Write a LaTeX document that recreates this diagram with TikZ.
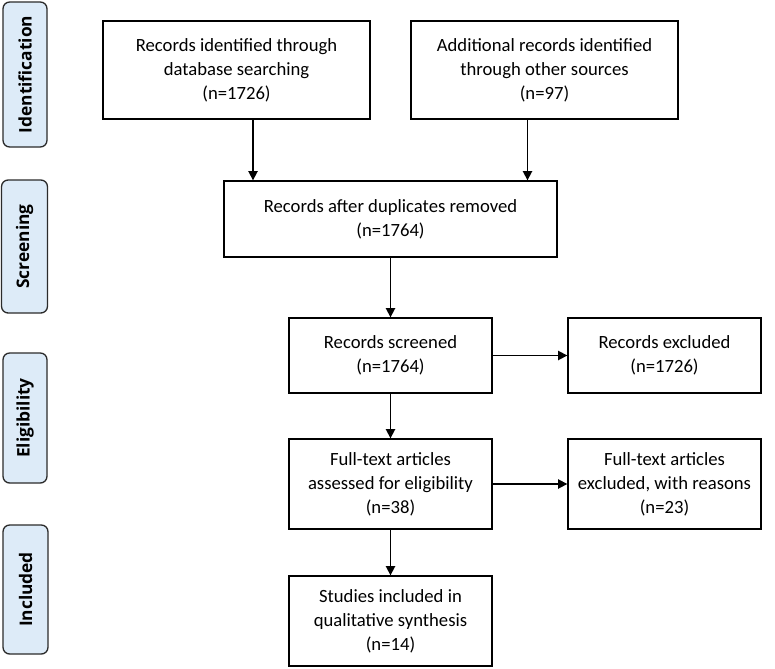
\documentclass[tikz,border=0pt]{standalone}
\usepackage{fontspec}
\setmainfont{Carlito}
\newfontfamily\labfont{Open Sans}
\usetikzlibrary{arrows.meta}
\definecolor{labfill}{HTML}{DDEBF8}
\definecolor{labdraw}{HTML}{2B2B2B}
\begin{document}
\begin{tikzpicture}[x=0.75pt,y=-0.75pt,
  box/.style={draw=black,line width=1pt,align=center,font=\fontsize{14}{18}\selectfont,inner sep=0pt},
  phase/.style={draw=labdraw,fill=labfill,line width=1pt,rounded corners=5pt},
  plab/.style={rotate=90,font=\labfont\bfseries\fontsize{13}{15}\selectfont},
  arr/.style={-{Triangle[length=7pt,width=7pt]},line width=1.2pt}]
\useasboundingbox (0,0) rectangle (775,668);
% phase labels
\path[phase] (3,2) rectangle (47,147);
\node[plab] (lid) at (25,74.5) {Identification};
\path[phase] (1.5,180) rectangle (47.5,313);
\node[plab] (lsc) at (24.5,246.5) {Screening};
\path[phase] (3,353) rectangle (47,483);
\node[plab] (lel) at (25,418) {Eligibility};
\path[phase] (3,525) rectangle (48,654);
\node[plab] (lin) at (25.5,589.5) {Included};
% boxes
\node[box,minimum width=200.25pt,minimum height=73.5pt] (b1) at (236.5,70)
  {Records identified through\\database searching\\(n=1726)};
\node[box,minimum width=200.25pt,minimum height=73.5pt] (b2) at (544.5,70)
  {Additional records identified\\through other sources\\(n=97)};
\node[box,minimum width=249.75pt,minimum height=57pt] (dup) at (390.5,219)
  {Records after duplicates removed\\(n=1764)};
\node[box,minimum width=152.25pt,minimum height=56.25pt] (scr) at (390.5,355.5)
  {Records screened\\(n=1764)};
\node[box,minimum width=144.75pt,minimum height=56.25pt] (exc) at (664.5,355.5)
  {Records excluded\\(n=1726)};
\node[box,minimum width=152.25pt,minimum height=67.5pt] (ft) at (390.5,484)
  {Full-text articles\\assessed for eligibility\\(n=38)};
\node[box,minimum width=144.75pt,minimum height=67.5pt] (fte) at (664.5,484)
  {Full-text articles\\excluded, with reasons\\(n=23)};
\node[box,minimum width=152.25pt,minimum height=67.5pt] (inc) at (390.5,621)
  {Studies included in\\qualitative synthesis\\(n=14)};
% connectors
\coordinate (xa) at (253,0);
\coordinate (xb) at (527.5,0);
\draw[arr] (b1.south -| xa) -- (dup.north -| xa);
\draw[arr] (b2.south -| xb) -- (dup.north -| xb);
\draw[arr] (dup) -- (scr);
\draw[arr] (scr) -- (exc);
\draw[arr] (scr) -- (ft);
\draw[arr] (ft) -- (fte);
\draw[arr] (ft) -- (inc);
\end{tikzpicture}
\end{document}
